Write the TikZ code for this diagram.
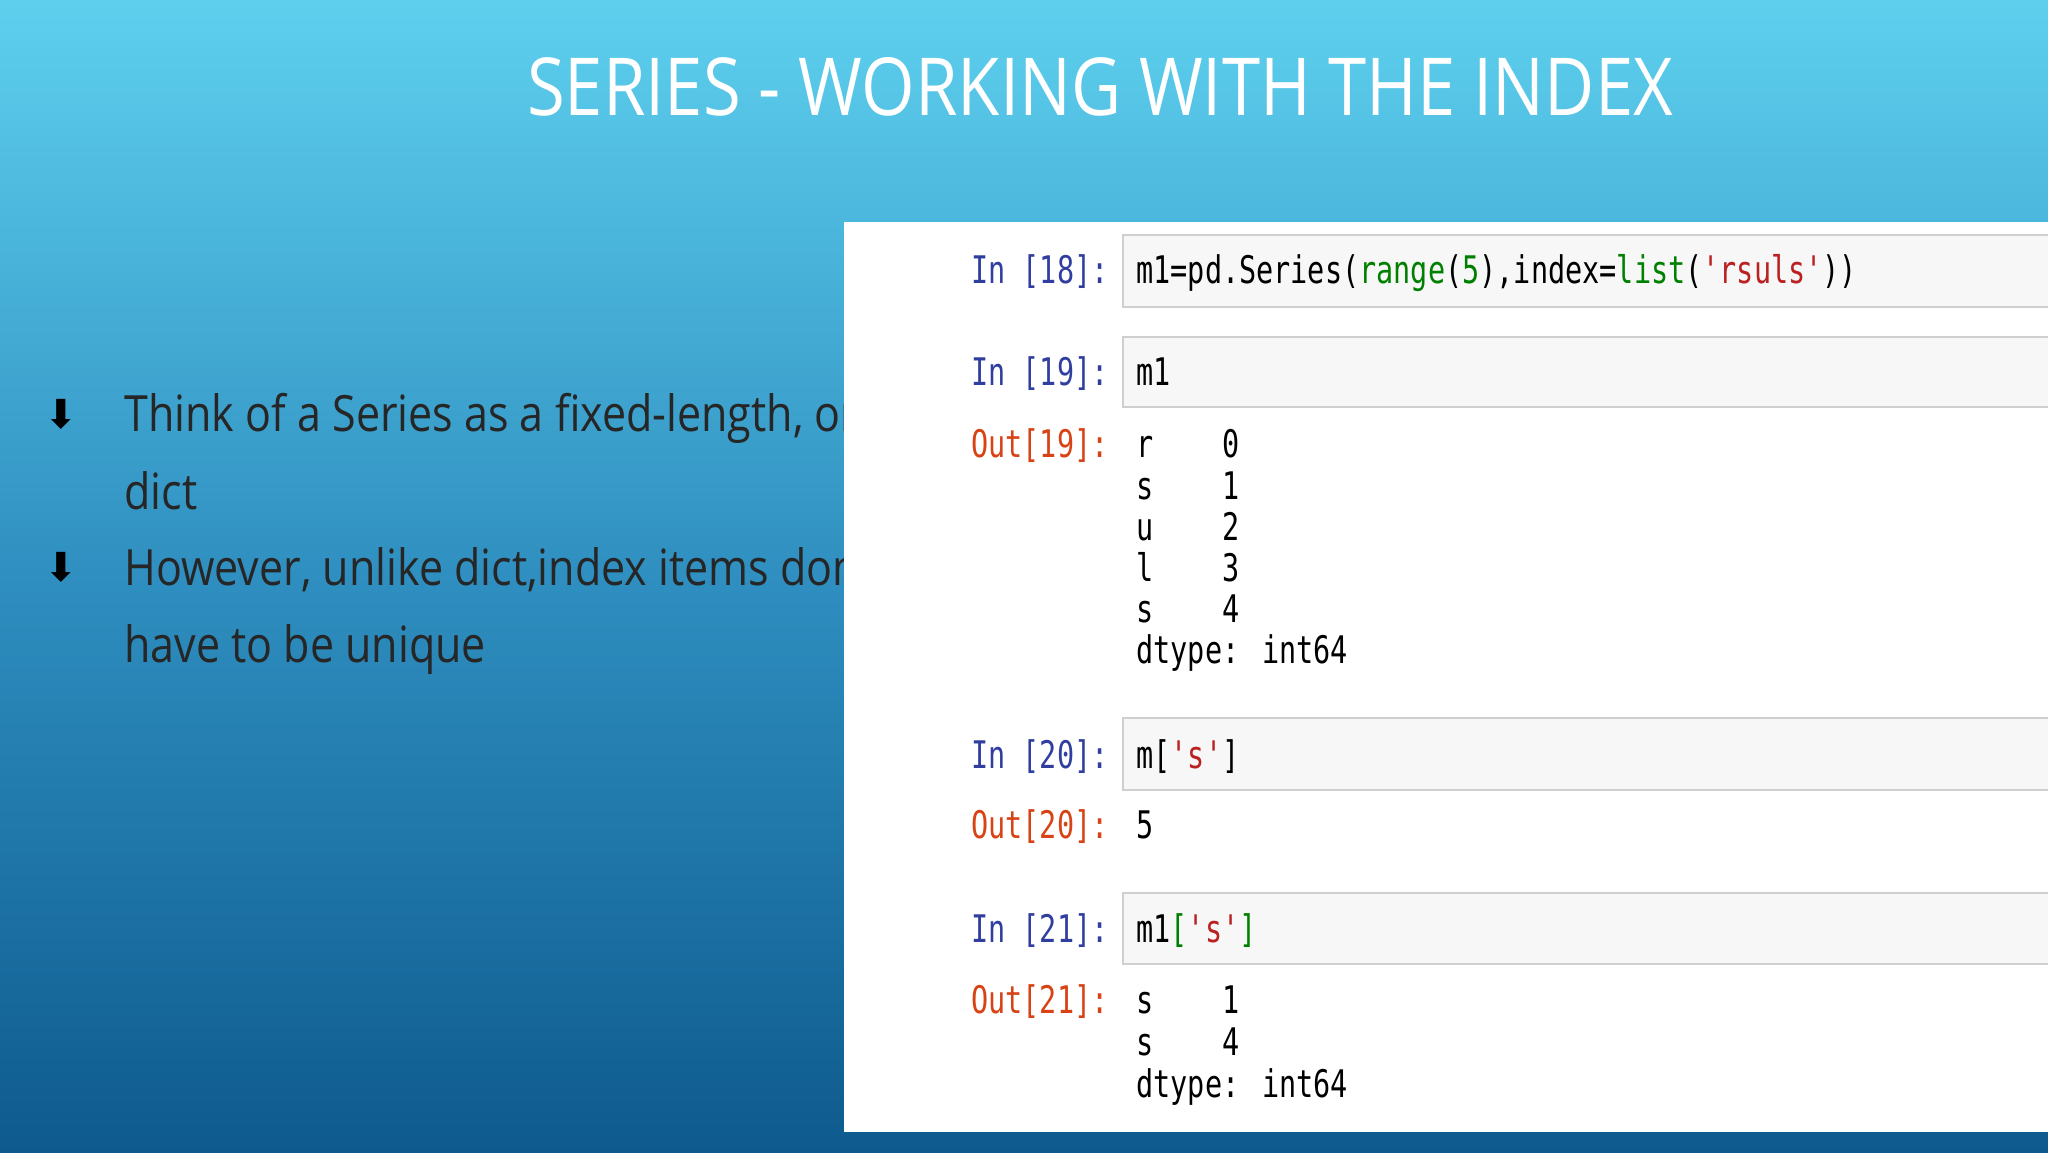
\documentclass[tikz,border=0pt]{standalone}
\usepackage{fontspec}
\setmainfont{Open Sans}
\newfontfamily\narrowfont[FakeStretch=0.86]{Open Sans}
\newfontfamily\codefont[FakeStretch=0.75]{DejaVu Sans Mono}
\newfontfamily\symfont{DejaVu Sans}
\definecolor{bgtop}{HTML}{5ED0EE}
\definecolor{bgmid}{HTML}{2F8FC0}
\definecolor{bgbot}{HTML}{0E5A8E}
\definecolor{inblue}{HTML}{303F9F}
\definecolor{outred}{HTML}{D84315}
\definecolor{cgreen}{HTML}{008000}
\definecolor{cred}{HTML}{BA2121}
\definecolor{cellbg}{HTML}{F7F7F7}
\definecolor{cellbd}{HTML}{CFCFCF}
\tikzset{
  code/.style={anchor=mid west,inner sep=0pt,font=\codefont\fontsize{19}{19}\selectfont,text=black},
  inp/.style={anchor=mid east,inner sep=0pt,font=\codefont\fontsize{19}{19}\selectfont,text=inblue},
  outp/.style={anchor=mid east,inner sep=0pt,font=\codefont\fontsize{19}{19}\selectfont,text=outred},
  cell/.style={fill=cellbg,draw=cellbd,line width=1.2pt},
  btext/.style={anchor=base west,inner sep=0pt,font=\narrowfont\fontsize{25}{25}\selectfont,text=black!85},
  bullet/.style={anchor=base,inner sep=0pt,font=\symfont\fontsize{20}{20}\selectfont,text=black}
}
\begin{document}
\begin{tikzpicture}[x=0.5pt,y=-0.5pt]
\useasboundingbox (0,0) rectangle (2048,1152);
\shade[top color=bgtop,bottom color=bgmid] (0,0) rectangle (2048,576);
\shade[top color=bgmid,bottom color=bgbot] (0,575) rectangle (2048,1152);
\node[inner sep=0pt,text=white,font=\narrowfont\fontsize{40}{40}\selectfont] (title) at (1100,87) {SERIES - WORKING WITH THE INDEX};
% bullets
\node[bullet] (b1) at (61,428) {⬇};
\node[bullet] (b2) at (61,581) {⬇};
\begin{scope}
\clip (0,0) rectangle (843,1152);
\node[btext] (t1) at (124,431) {Think of a Series as a fixed-length, ordered};
\node[btext] (t3) at (124,585) {However, unlike dict,index items don't};
\end{scope}
\node[btext] (t2) at (124,509) {dict};
\node[btext] (t4) at (124,662) {have to be unique};
% panel
\fill[white] (844,222) rectangle (2048,1132);
\draw[cell] (1123,235) rectangle (2060,307);
\draw[cell] (1123,337) rectangle (2060,407);
\draw[cell] (1123,718) rectangle (2060,790);
\draw[cell] (1123,893) rectangle (2060,964);
\node[inp] (p18) at (1109,278) {In [18]:};
\node[code] (c18) at (1136,278) {m1=pd.Series(\textcolor{cgreen}{range}(\textcolor{cgreen}{5}),index=\textcolor{cgreen}{list}(\textcolor{cred}{'rsuls'}))};
\node[inp] (p19) at (1109,380) {In [19]:};
\node[code] (c19) at (1136,380) {m1};
\node[outp] (o19) at (1109,452) {Out[19]:};
\node[code] (r1) at (1136,452) {r\ \ \ \ 0};
\node[code] (r2) at (1136,494) {s\ \ \ \ 1};
\node[code] (r3) at (1136,535) {u\ \ \ \ 2};
\node[code] (r4) at (1136,576) {l\ \ \ \ 3};
\node[code] (r5) at (1136,617) {s\ \ \ \ 4};
\node[code] (r6) at (1136,658) {dtype: int64};
\node[inp] (p20) at (1109,763) {In [20]:};
\node[code] (c20) at (1136,763) {m[\textcolor{cred}{'s'}]};
\node[outp] (o20) at (1109,833) {Out[20]:};
\node[code] (v20) at (1136,833) {5};
\node[inp] (p21) at (1109,937) {In [21]:};
\node[code] (c21) at (1136,937) {m1\textcolor{cgreen}{[}\textcolor{cred}{'s'}\textcolor{cgreen}{]}};
\node[outp] (o21) at (1109,1008) {Out[21]:};
\node[code] (s1) at (1136,1008) {s\ \ \ \ 1};
\node[code] (s2) at (1136,1050) {s\ \ \ \ 4};
\node[code] (s3) at (1136,1092) {dtype: int64};
\end{tikzpicture}
\end{document}
